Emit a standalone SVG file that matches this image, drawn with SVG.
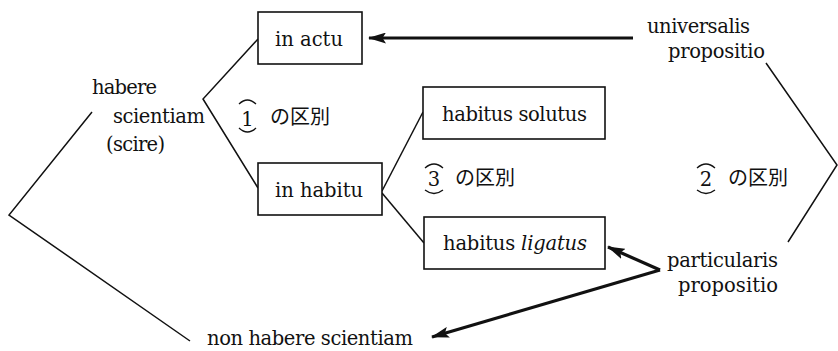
<svg xmlns="http://www.w3.org/2000/svg" width="838" height="351" viewBox="0 0 838 351">
<defs>
<style>
.t{font-family:"DejaVu Serif","Liberation Serif",serif;font-size:19.5px;fill:#111}
.j{font-family:"Noto Sans CJK JP","Noto Sans",sans-serif;font-size:20px;fill:#111}
.box{fill:#fff;stroke:#111;stroke-width:1.6}
.ln{fill:none;stroke:#111;stroke-width:1.5}
.ar{fill:none;stroke:#111;stroke-width:3.2}
.arc{fill:none;stroke:#111;stroke-width:1.3}
</style>
<marker id="ah" viewBox="0 0 18 11" refX="17" refY="5.5" markerWidth="18" markerHeight="11" markerUnits="userSpaceOnUse" orient="auto">
<path d="M0,0 L18,5.5 L0,11 L3.5,5.5 Z" fill="#111"/>
</marker>
</defs>
<rect width="838" height="351" fill="#fff"/>
<g id="connectors">
<polyline class="ln" points="92,112 9,215 190,341"/>
<polyline class="ln" points="258,39 203,99 258,188"/>
<line class="ln" x1="382" y1="191" x2="423" y2="112"/>
<line class="ln" x1="382" y1="193" x2="424" y2="243"/>
<polyline class="ln" points="766,63 837,165 788,242"/>
<line class="ar" x1="633" y1="38" x2="369" y2="38" marker-end="url(#ah)"/>
<line class="ar" x1="660" y1="270" x2="608" y2="247" marker-end="url(#ah)"/>
<line class="ar" x1="660" y1="270" x2="432" y2="337" marker-end="url(#ah)"/>
</g>
<g id="habere-scientiam">
<text class="t" x="92" y="94" textLength="65">habere</text>
<text class="t" x="113" y="123" textLength="92">scientiam</text>
<text class="t" x="106" y="151" textLength="59">(scire)</text>
</g>
<g id="in-actu">
<rect class="box" x="258" y="12" width="104" height="52"/>
<text class="t" x="275" y="46" textLength="68">in actu</text>
</g>
<g id="in-habitu">
<rect class="box" x="258" y="163" width="124" height="52"/>
<text class="t" x="275" y="197" textLength="88">in habitu</text>
</g>
<g id="habitus-solutus">
<rect class="box" x="423" y="87" width="182" height="52"/>
<text class="t" x="442" y="121" textLength="145">habitus solutus</text>
</g>
<g id="habitus-ligatus">
<rect class="box" x="424" y="217" width="181" height="52"/>
<text class="t" x="443" y="250" textLength="144">habitus <tspan font-style="italic">ligatus</tspan></text>
</g>
<g id="universalis">
<text class="t" x="647" y="33" textLength="103">universalis</text>
<text class="t" x="668" y="58" textLength="97">propositio</text>
</g>
<g id="particularis">
<text class="t" x="667" y="267" textLength="111">particularis</text>
<text class="t" x="678" y="292" textLength="100">propositio</text>
</g>
<g id="non-habere">
<text class="t" x="207" y="345" textLength="206">non habere scientiam</text>
</g>
<g id="dist1">
<path class="arc" d="M239,104 Q247.5,96 256,104"/>
<path class="arc" d="M239,128 Q247.5,136 256,128"/>
<text class="t" x="247.5" y="126" text-anchor="middle" font-size="21">1</text>
<text class="j" x="270" y="124">の区別</text>
</g>
<g id="dist3">
<path class="arc" d="M425,168 Q434,160 443,168"/>
<path class="arc" d="M425,190 Q434,197 443,190"/>
<text class="t" x="434" y="186" text-anchor="middle" font-size="21">3</text>
<text class="j" x="455" y="185">の区別</text>
</g>
<g id="dist2">
<path class="arc" d="M697,168 Q706,160 715,168"/>
<path class="arc" d="M697,190 Q706,197 715,190"/>
<text class="t" x="706" y="186" text-anchor="middle" font-size="21">2</text>
<text class="j" x="728" y="185">の区別</text>
</g>
</svg>
